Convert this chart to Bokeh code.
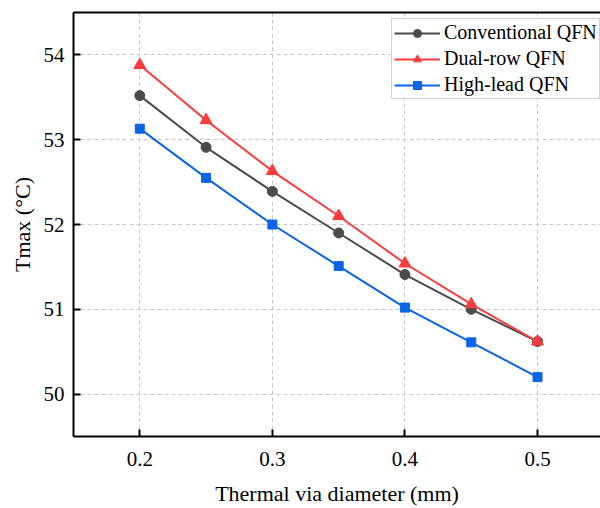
from bokeh.plotting import figure
from bokeh.models import Range1d, LinearAxis, FixedTicker, Legend, LegendItem
from bokeh.embed import file_html
from bokeh.resources import INLINE

# ---- data ----
diameter = [0.2, 0.25, 0.3, 0.35, 0.4, 0.45, 0.5]
conventional = [53.52, 52.91, 52.39, 51.90, 51.41, 51.00, 50.62]
dual_row = [53.88, 53.23, 52.63, 52.10, 51.54, 51.06, 50.62]
high_lead = [53.13, 52.55, 52.00, 51.51, 51.02, 50.61, 50.20]
x_ticks = [0.2, 0.3, 0.4, 0.5]
y_ticks = [50, 51, 52, 53, 54]
series_names = ["Conventional QFN", "Dual-row QFN", "High-lead QFN"]

FONT = "Liberation Serif"
GRAY = "#4b4b4b"
RED = "#fa3c3c"
BLUE = "#0a64e6"

p = figure(width=600, height=508, output_backend="svg", toolbar_location=None,
           x_range=Range1d(0.15, 0.5475), y_range=Range1d(49.5, 54.5),
           min_border_left=73, min_border_right=0, min_border_top=12, min_border_bottom=69)
p.outline_line_color = None
p.background_fill_color = "white"

for ax in (p.xaxis[0], p.yaxis[0]):
    ax.axis_line_width = 2
    ax.axis_line_color = "black"
    ax.major_tick_line_width = 2
    ax.major_tick_line_color = "black"
    ax.major_tick_in = 7
    ax.major_tick_out = 0
    ax.minor_tick_line_color = None
    ax.major_label_text_font = FONT
    ax.major_label_text_font_size = "21px"
    ax.major_label_text_color = "black"
    ax.axis_label_text_font = FONT
    ax.axis_label_text_font_size = "22px"
    ax.axis_label_text_font_style = "normal"
    ax.axis_label_text_color = "black"

p.xaxis[0].ticker = FixedTicker(ticks=x_ticks)
p.yaxis[0].ticker = FixedTicker(ticks=y_ticks)
p.xaxis[0].axis_label = "Thermal via diameter (mm)"
p.yaxis[0].axis_label = "Tmax (\u00b0C)"
p.xaxis[0].major_label_standoff = 15
p.xaxis[0].axis_label_standoff = 12
p.yaxis[0].major_label_standoff = 9
p.yaxis[0].axis_label_standoff = 6

p.xgrid.ticker = FixedTicker(ticks=x_ticks)
p.ygrid.ticker = FixedTicker(ticks=y_ticks)
for g in (p.xgrid[0], p.ygrid[0]):
    g.grid_line_color = "#c8c8c8"
    g.grid_line_dash = "4 3"
    g.grid_line_width = 1

top_axis = LinearAxis(ticker=FixedTicker(ticks=[]), major_label_text_font_size="0px",
                      major_tick_in=0, major_tick_out=0, minor_tick_in=0, minor_tick_out=0,
                      axis_line_width=2, axis_line_color="black", major_label_standoff=0)
p.add_layout(top_axis, "above")

l1 = p.line(diameter, conventional, line_color=GRAY, line_width=2)
s1 = p.scatter(diameter, conventional, marker="circle", size=10, fill_color=GRAY, line_color=GRAY)
l3 = p.line(diameter, high_lead, line_color=BLUE, line_width=2)
s3 = p.scatter(diameter, high_lead, marker="square", size=9, fill_color=BLUE, line_color=BLUE)
l2 = p.line(diameter, dual_row, line_color=RED, line_width=2)
s2 = p.scatter(diameter, dual_row, marker="triangle", size=12, fill_color=RED, line_color=RED)

legend = Legend(items=[LegendItem(label=series_names[0], renderers=[l1, s1]),
                       LegendItem(label=series_names[1], renderers=[l2, s2]),
                       LegendItem(label=series_names[2], renderers=[l3, s3])],
                location=(318, 337), margin=0, padding=2, spacing=3,
                glyph_width=46, glyph_height=20, label_height=20, label_standoff=4,
                label_text_font=FONT, label_text_font_size="20px", label_text_color="black",
                border_line_color="#a0a0a0", border_line_width=1,
                background_fill_color="white", background_fill_alpha=1)
p.add_layout(legend)

open("out.html", "w").write(file_html(p, INLINE))
